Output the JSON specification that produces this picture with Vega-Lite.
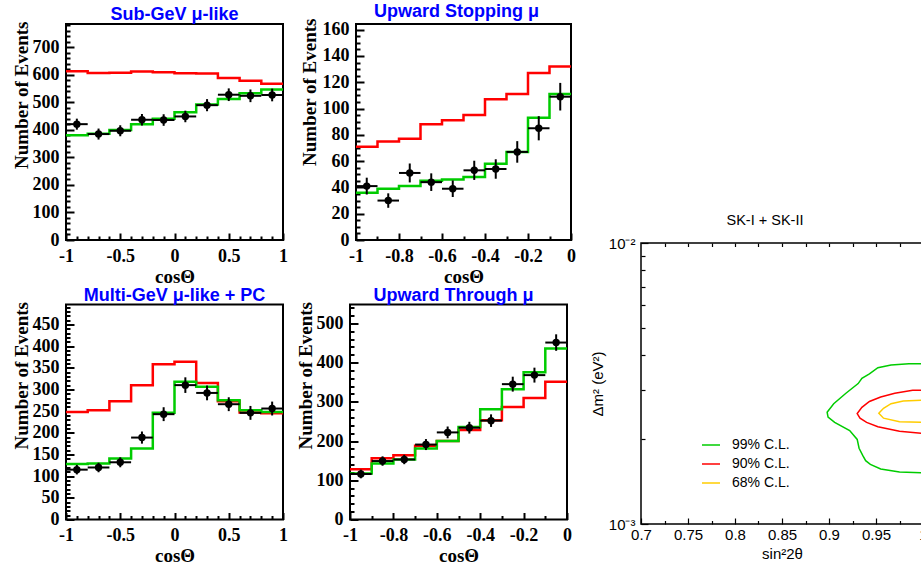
{
  "$schema": "https://vega.github.io/schema/vega-lite/v6.json",
  "background": "white",
  "padding": {"left": 10, "top": 2, "right": 0, "bottom": 0},
  "config": {
    "view": {"stroke": "black", "strokeWidth": 2},
    "axis": {"grid": false, "domain": false, "tickColor": "black", "tickWidth": 2, "labelColor": "black", "titleColor": "black"}
  },
  "datasets": {
    "sub_mc": [
      {"edge": -1.0, "noosc": 613, "fit": 381}, {"edge": -0.8, "noosc": 607, "fit": 386}, {"edge": -0.6, "noosc": 608, "fit": 400},
      {"edge": -0.4, "noosc": 612, "fit": 421}, {"edge": -0.2, "noosc": 610, "fit": 441}, {"edge": 0.0, "noosc": 606, "fit": 464},
      {"edge": 0.2, "noosc": 605, "fit": 492}, {"edge": 0.4, "noosc": 589, "fit": 512}, {"edge": 0.6, "noosc": 579, "fit": 533},
      {"edge": 0.8, "noosc": 568, "fit": 547}, {"edge": 1.0, "noosc": 568, "fit": 547}
    ],
    "sub_pts": [
      {"cos": -0.9, "lo": -1.0, "hi": -0.8, "n": 421, "err": 20}, {"cos": -0.7, "lo": -0.8, "hi": -0.6, "n": 385, "err": 20},
      {"cos": -0.5, "lo": -0.6, "hi": -0.4, "n": 397, "err": 20}, {"cos": -0.3, "lo": -0.4, "hi": -0.2, "n": 437, "err": 21},
      {"cos": -0.1, "lo": -0.2, "hi": 0.0, "n": 436, "err": 21}, {"cos": 0.1, "lo": 0.0, "hi": 0.2, "n": 449, "err": 21},
      {"cos": 0.3, "lo": 0.2, "hi": 0.4, "n": 490, "err": 22}, {"cos": 0.5, "lo": 0.4, "hi": 0.6, "n": 528, "err": 23},
      {"cos": 0.7, "lo": 0.6, "hi": 0.8, "n": 524, "err": 23}, {"cos": 0.9, "lo": 0.8, "hi": 1.0, "n": 527, "err": 23}
    ],
    "stop_mc": [
      {"edge": -1.0, "noosc": 71, "fit": 36}, {"edge": -0.9, "noosc": 75, "fit": 39}, {"edge": -0.8, "noosc": 77, "fit": 41},
      {"edge": -0.7, "noosc": 88, "fit": 45}, {"edge": -0.6, "noosc": 91, "fit": 46}, {"edge": -0.5, "noosc": 95, "fit": 48},
      {"edge": -0.4, "noosc": 107, "fit": 58}, {"edge": -0.3, "noosc": 111, "fit": 67}, {"edge": -0.2, "noosc": 127, "fit": 93},
      {"edge": -0.1, "noosc": 132, "fit": 111}, {"edge": 0.0, "noosc": 132, "fit": 111}
    ],
    "stop_pts": [
      {"cos": -0.95, "lo": -1.0, "hi": -0.9, "n": 41, "err": 6.4}, {"cos": -0.85, "lo": -0.9, "hi": -0.8, "n": 30, "err": 5.5},
      {"cos": -0.75, "lo": -0.8, "hi": -0.7, "n": 51, "err": 7.2}, {"cos": -0.65, "lo": -0.7, "hi": -0.6, "n": 44, "err": 6.7},
      {"cos": -0.55, "lo": -0.6, "hi": -0.5, "n": 39, "err": 6.3}, {"cos": -0.45, "lo": -0.5, "hi": -0.4, "n": 53, "err": 7.3},
      {"cos": -0.35, "lo": -0.4, "hi": -0.3, "n": 54, "err": 7.4}, {"cos": -0.25, "lo": -0.3, "hi": -0.2, "n": 67, "err": 8.2},
      {"cos": -0.15, "lo": -0.2, "hi": -0.1, "n": 85, "err": 9.2}, {"cos": -0.05, "lo": -0.1, "hi": 0.0, "n": 109, "err": 10.5}
    ],
    "multi_mc": [
      {"edge": -1.0, "noosc": 248, "fit": 128}, {"edge": -0.8, "noosc": 252, "fit": 129}, {"edge": -0.6, "noosc": 273, "fit": 141},
      {"edge": -0.4, "noosc": 310, "fit": 164}, {"edge": -0.2, "noosc": 358, "fit": 246}, {"edge": 0.0, "noosc": 364, "fit": 318},
      {"edge": 0.2, "noosc": 315, "fit": 306}, {"edge": 0.4, "noosc": 273, "fit": 275}, {"edge": 0.6, "noosc": 247, "fit": 252},
      {"edge": 0.8, "noosc": 245, "fit": 248}, {"edge": 1.0, "noosc": 245, "fit": 248}
    ],
    "multi_pts": [
      {"cos": -0.9, "lo": -1.0, "hi": -0.8, "n": 115, "err": 11}, {"cos": -0.7, "lo": -0.8, "hi": -0.6, "n": 120, "err": 11},
      {"cos": -0.5, "lo": -0.6, "hi": -0.4, "n": 132, "err": 11.5}, {"cos": -0.3, "lo": -0.4, "hi": -0.2, "n": 189, "err": 14},
      {"cos": -0.1, "lo": -0.2, "hi": 0.0, "n": 243, "err": 16}, {"cos": 0.1, "lo": 0.0, "hi": 0.2, "n": 310, "err": 18},
      {"cos": 0.3, "lo": 0.2, "hi": 0.4, "n": 292, "err": 17}, {"cos": 0.5, "lo": 0.4, "hi": 0.6, "n": 266, "err": 16},
      {"cos": 0.7, "lo": 0.6, "hi": 0.8, "n": 246, "err": 16}, {"cos": 0.9, "lo": 0.8, "hi": 1.0, "n": 256, "err": 16}
    ],
    "thru_mc": [
      {"edge": -1.0, "noosc": 128, "fit": 117}, {"edge": -0.9, "noosc": 156, "fit": 143}, {"edge": -0.8, "noosc": 164, "fit": 153},
      {"edge": -0.7, "noosc": 188, "fit": 181}, {"edge": -0.6, "noosc": 200, "fit": 200}, {"edge": -0.5, "noosc": 228, "fit": 236},
      {"edge": -0.4, "noosc": 253, "fit": 281}, {"edge": -0.3, "noosc": 287, "fit": 332}, {"edge": -0.2, "noosc": 310, "fit": 375},
      {"edge": -0.1, "noosc": 351, "fit": 436}, {"edge": 0.0, "noosc": 351, "fit": 436}
    ],
    "thru_pts": [
      {"cos": -0.95, "lo": -1.0, "hi": -0.9, "n": 116, "err": 11}, {"cos": -0.85, "lo": -0.9, "hi": -0.8, "n": 149, "err": 12},
      {"cos": -0.75, "lo": -0.8, "hi": -0.7, "n": 153, "err": 12}, {"cos": -0.65, "lo": -0.7, "hi": -0.6, "n": 191, "err": 14},
      {"cos": -0.55, "lo": -0.6, "hi": -0.5, "n": 222, "err": 15}, {"cos": -0.45, "lo": -0.5, "hi": -0.4, "n": 234, "err": 15},
      {"cos": -0.35, "lo": -0.4, "hi": -0.3, "n": 252, "err": 16}, {"cos": -0.25, "lo": -0.3, "hi": -0.2, "n": 345, "err": 19},
      {"cos": -0.15, "lo": -0.2, "hi": -0.1, "n": 368, "err": 19}, {"cos": -0.05, "lo": -0.1, "hi": 0.0, "n": 451, "err": 21}
    ],
    "contour": [
      {"level": "99% C.L.", "i": 1, "s2": 1.0, "dm2": 0.00372}, {"level": "99% C.L.", "i": 2, "s2": 0.985, "dm2": 0.00372},
      {"level": "99% C.L.", "i": 3, "s2": 0.966, "dm2": 0.00368}, {"level": "99% C.L.", "i": 4, "s2": 0.952, "dm2": 0.0036},
      {"level": "99% C.L.", "i": 5, "s2": 0.943, "dm2": 0.00342}, {"level": "99% C.L.", "i": 6, "s2": 0.935, "dm2": 0.0033},
      {"level": "99% C.L.", "i": 7, "s2": 0.931, "dm2": 0.00316}, {"level": "99% C.L.", "i": 8, "s2": 0.918, "dm2": 0.00292},
      {"level": "99% C.L.", "i": 9, "s2": 0.905, "dm2": 0.00268}, {"level": "99% C.L.", "i": 10, "s2": 0.898, "dm2": 0.0025},
      {"level": "99% C.L.", "i": 11, "s2": 0.899, "dm2": 0.0024}, {"level": "99% C.L.", "i": 12, "s2": 0.906, "dm2": 0.0023},
      {"level": "99% C.L.", "i": 13, "s2": 0.922, "dm2": 0.00215}, {"level": "99% C.L.", "i": 14, "s2": 0.93, "dm2": 0.002},
      {"level": "99% C.L.", "i": 15, "s2": 0.932, "dm2": 0.00186}, {"level": "99% C.L.", "i": 16, "s2": 0.936, "dm2": 0.00175},
      {"level": "99% C.L.", "i": 17, "s2": 0.939, "dm2": 0.00168}, {"level": "99% C.L.", "i": 18, "s2": 0.944, "dm2": 0.00163},
      {"level": "99% C.L.", "i": 19, "s2": 0.955, "dm2": 0.00157}, {"level": "99% C.L.", "i": 20, "s2": 0.975, "dm2": 0.00153},
      {"level": "99% C.L.", "i": 21, "s2": 1.0, "dm2": 0.00152}, {"level": "99% C.L.", "i": 22, "s2": 1.0, "dm2": 0.00372},
      {"level": "90% C.L.", "i": 1, "s2": 1.0, "dm2": 0.00299}, {"level": "90% C.L.", "i": 2, "s2": 0.989, "dm2": 0.00299},
      {"level": "90% C.L.", "i": 3, "s2": 0.97, "dm2": 0.00292}, {"level": "90% C.L.", "i": 4, "s2": 0.955, "dm2": 0.00283},
      {"level": "90% C.L.", "i": 5, "s2": 0.943, "dm2": 0.00273}, {"level": "90% C.L.", "i": 6, "s2": 0.935, "dm2": 0.0026},
      {"level": "90% C.L.", "i": 7, "s2": 0.93, "dm2": 0.00247}, {"level": "90% C.L.", "i": 8, "s2": 0.933, "dm2": 0.00238},
      {"level": "90% C.L.", "i": 9, "s2": 0.94, "dm2": 0.0023}, {"level": "90% C.L.", "i": 10, "s2": 0.952, "dm2": 0.00222},
      {"level": "90% C.L.", "i": 11, "s2": 0.975, "dm2": 0.00214}, {"level": "90% C.L.", "i": 12, "s2": 1.0, "dm2": 0.0021},
      {"level": "90% C.L.", "i": 13, "s2": 1.0, "dm2": 0.00299},
      {"level": "68% C.L.", "i": 1, "s2": 1.0, "dm2": 0.00276}, {"level": "68% C.L.", "i": 2, "s2": 0.979, "dm2": 0.00274},
      {"level": "68% C.L.", "i": 3, "s2": 0.966, "dm2": 0.00268}, {"level": "68% C.L.", "i": 4, "s2": 0.958, "dm2": 0.00258},
      {"level": "68% C.L.", "i": 5, "s2": 0.953, "dm2": 0.00248}, {"level": "68% C.L.", "i": 6, "s2": 0.958, "dm2": 0.00238},
      {"level": "68% C.L.", "i": 7, "s2": 0.975, "dm2": 0.00231}, {"level": "68% C.L.", "i": 8, "s2": 1.0, "dm2": 0.0023},
      {"level": "68% C.L.", "i": 9, "s2": 1.0, "dm2": 0.00276}
    ]
  },
  "resolve": {"scale": {"color": "independent"}, "legend": {"color": "independent"}},
  "spacing": 12,
  "hconcat": [
    {
      "spacing": -1.5,
      "vconcat": [
        {
          "bounds": "flush",
          "spacing": 73,
          "hconcat": [
            {
              "width": 217, "height": 216,
              "title": {"text": "Sub-GeV μ-like", "font": "Liberation Sans", "fontWeight": "bold", "fontSize": 18, "color": "#0000ff", "offset": -3, "anchor": "middle"},
              "resolve": {"axis": {"x": "independent", "y": "independent"}},
              "layer": [
                {
                  "data": {"name": "sub_mc"},
                  "transform": [{"fold": ["noosc", "fit"], "as": ["series", "val"]}],
                  "mark": {"type": "line", "interpolate": "step-after", "strokeWidth": 2.5},
                  "encoding": {
                    "x": {"field": "edge", "type": "quantitative", "scale": {"domain": [-1, 1], "nice": false, "zero": false},
                      "axis": {"orient": "bottom", "values": [-1, -0.5, 0, 0.5, 1], "labelExpr": "toString(datum.value)", "tickSize": -7, "labelFont": "Liberation Serif", "labelFontWeight": "bold", "labelFontSize": 18, "labelPadding": 14, "labelFlush": false, "labelOverlap": false, "title": "cosΘ", "titleFont": "Liberation Serif", "titleFontWeight": "bold", "titleFontSize": 19, "titleY": 27, "titleBaseline": "top"}},
                    "y": {"field": "val", "type": "quantitative", "scale": {"domain": [0, 785], "nice": false, "zero": false},
                      "axis": {"orient": "left", "values": [0, 100, 200, 300, 400, 500, 600, 700], "tickSize": -8, "labelFont": "Liberation Serif", "labelFontWeight": "bold", "labelFontSize": 18, "labelPadding": 15, "labelOverlap": false, "title": "Number of Events", "titleFont": "Liberation Serif", "titleFontWeight": "bold", "titleFontSize": 19, "titleAngle": -90, "titleAlign": "right", "titleBaseline": "middle", "titleX": -45, "titleY": -3}},
                    "color": {"field": "series", "type": "nominal", "scale": {"domain": ["noosc", "fit"], "range": ["#ff0000", "#00cc00"]}, "legend": null}
                  }
                },
                {
                  "data": {"name": "sub_pts"},
                  "mark": {"type": "errorbar", "color": "black", "thickness": 2},
                  "encoding": {
                    "x": {"field": "cos", "type": "quantitative", "scale": {"domain": [-1, 1], "nice": false, "zero": false}, "axis": null},
                    "y": {"field": "n", "type": "quantitative", "scale": {"domain": [0, 785], "nice": false, "zero": false}, "axis": null},
                    "yError": {"field": "err"}
                  }
                },
                {
                  "data": {"name": "sub_pts"},
                  "mark": {"type": "rule", "color": "black", "strokeWidth": 2},
                  "encoding": {
                    "x": {"field": "lo", "type": "quantitative", "scale": {"domain": [-1, 1], "nice": false, "zero": false},
                      "axis": {"orient": "bottom", "values": [-0.9, -0.8, -0.7, -0.6, -0.4, -0.3, -0.2, -0.1, 0.1, 0.2, 0.3, 0.4, 0.6, 0.7, 0.8, 0.9], "labels": false, "tickSize": -4, "title": null}},
                    "x2": {"field": "hi"},
                    "y": {"field": "n", "type": "quantitative", "scale": {"domain": [0, 785], "nice": false, "zero": false},
                      "axis": {"orient": "left", "values": [20, 40, 60, 80, 120, 140, 160, 180, 220, 240, 260, 280, 320, 340, 360, 380, 420, 440, 460, 480, 520, 540, 560, 580, 620, 640, 660, 680, 720, 740, 760, 780], "labels": false, "tickSize": -4, "title": null}}
                  }
                },
                {
                  "data": {"name": "sub_pts"},
                  "mark": {"type": "circle", "color": "black", "size": 55, "opacity": 1},
                  "encoding": {
                    "x": {"field": "cos", "type": "quantitative", "scale": {"domain": [-1, 1], "nice": false, "zero": false}, "axis": null},
                    "y": {"field": "n", "type": "quantitative", "scale": {"domain": [0, 785], "nice": false, "zero": false}, "axis": null}
                  }
                }
              ]
            },
            {
              "width": 215, "height": 216,
              "title": {"text": "Upward Stopping   μ", "font": "Liberation Sans", "fontWeight": "bold", "fontSize": 18, "color": "#0000ff", "offset": -3, "anchor": "middle", "dx": -7},
              "resolve": {"axis": {"x": "independent", "y": "independent"}},
              "layer": [
                {
                  "data": {"name": "stop_mc"},
                  "transform": [{"fold": ["noosc", "fit"], "as": ["series", "val"]}],
                  "mark": {"type": "line", "interpolate": "step-after", "strokeWidth": 2.5},
                  "encoding": {
                    "x": {"field": "edge", "type": "quantitative", "scale": {"domain": [-1, 0], "nice": false, "zero": false},
                      "axis": {"orient": "bottom", "values": [-1, -0.8, -0.6, -0.4, -0.2, 0], "labelExpr": "toString(datum.value)", "tickSize": -7, "labelFont": "Liberation Serif", "labelFontWeight": "bold", "labelFontSize": 18, "labelPadding": 14, "labelFlush": false, "labelOverlap": false, "title": "cosΘ", "titleFont": "Liberation Serif", "titleFontWeight": "bold", "titleFontSize": 19, "titleY": 27, "titleBaseline": "top"}},
                    "y": {"field": "val", "type": "quantitative", "scale": {"domain": [0, 164.3], "nice": false, "zero": false},
                      "axis": {"orient": "left", "values": [0, 20, 40, 60, 80, 100, 120, 140, 160], "tickSize": -8, "labelFont": "Liberation Serif", "labelFontWeight": "bold", "labelFontSize": 18, "labelPadding": 15, "labelOverlap": false, "title": "Number of Events", "titleFont": "Liberation Serif", "titleFontWeight": "bold", "titleFontSize": 19, "titleAngle": -90, "titleAlign": "right", "titleBaseline": "middle", "titleX": -47, "titleY": -6}},
                    "color": {"field": "series", "type": "nominal", "scale": {"domain": ["noosc", "fit"], "range": ["#ff0000", "#00cc00"]}, "legend": null}
                  }
                },
                {
                  "data": {"name": "stop_pts"},
                  "mark": {"type": "errorbar", "color": "black", "thickness": 2},
                  "encoding": {
                    "x": {"field": "cos", "type": "quantitative", "scale": {"domain": [-1, 0], "nice": false, "zero": false}, "axis": null},
                    "y": {"field": "n", "type": "quantitative", "scale": {"domain": [0, 164.3], "nice": false, "zero": false}, "axis": null},
                    "yError": {"field": "err"}
                  }
                },
                {
                  "data": {"name": "stop_pts"},
                  "mark": {"type": "rule", "color": "black", "strokeWidth": 2},
                  "encoding": {
                    "x": {"field": "lo", "type": "quantitative", "scale": {"domain": [-1, 0], "nice": false, "zero": false},
                      "axis": {"orient": "bottom", "values": [-0.9, -0.7, -0.5, -0.3, -0.1], "labels": false, "tickSize": -4, "title": null}},
                    "x2": {"field": "hi"},
                    "y": {"field": "n", "type": "quantitative", "scale": {"domain": [0, 164.3], "nice": false, "zero": false},
                      "axis": {"orient": "left", "values": [5, 10, 15, 25, 30, 35, 45, 50, 55, 65, 70, 75, 85, 90, 95, 105, 110, 115, 125, 130, 135, 145, 150, 155], "labels": false, "tickSize": -4, "title": null}}
                  }
                },
                {
                  "data": {"name": "stop_pts"},
                  "mark": {"type": "circle", "color": "black", "size": 55, "opacity": 1},
                  "encoding": {
                    "x": {"field": "cos", "type": "quantitative", "scale": {"domain": [-1, 0], "nice": false, "zero": false}, "axis": null},
                    "y": {"field": "n", "type": "quantitative", "scale": {"domain": [0, 164.3], "nice": false, "zero": false}, "axis": null}
                  }
                }
              ]
            }
          ]
        },
        {
          "bounds": "flush",
          "spacing": 67,
          "hconcat": [
            {
              "width": 217, "height": 215,
              "title": {"text": "Multi-GeV μ-like + PC", "font": "Liberation Sans", "fontWeight": "bold", "fontSize": 18, "color": "#0000ff", "offset": -3, "anchor": "middle"},
              "resolve": {"axis": {"x": "independent", "y": "independent"}},
              "layer": [
                {
                  "data": {"name": "multi_mc"},
                  "transform": [{"fold": ["noosc", "fit"], "as": ["series", "val"]}],
                  "mark": {"type": "line", "interpolate": "step-after", "strokeWidth": 2.5},
                  "encoding": {
                    "x": {"field": "edge", "type": "quantitative", "scale": {"domain": [-1, 1], "nice": false, "zero": false},
                      "axis": {"orient": "bottom", "values": [-1, -0.5, 0, 0.5, 1], "labelExpr": "toString(datum.value)", "tickSize": -7, "labelFont": "Liberation Serif", "labelFontWeight": "bold", "labelFontSize": 18, "labelPadding": 14, "labelFlush": false, "labelOverlap": false, "title": "cosΘ", "titleFont": "Liberation Serif", "titleFontWeight": "bold", "titleFontSize": 19, "titleY": 27, "titleBaseline": "top"}},
                    "y": {"field": "val", "type": "quantitative", "scale": {"domain": [0, 496], "nice": false, "zero": false},
                      "axis": {"orient": "left", "values": [0, 50, 100, 150, 200, 250, 300, 350, 400, 450], "tickSize": -8, "labelFont": "Liberation Serif", "labelFontWeight": "bold", "labelFontSize": 18, "labelPadding": 15, "labelOverlap": false, "title": "Number of Events", "titleFont": "Liberation Serif", "titleFontWeight": "bold", "titleFontSize": 19, "titleAngle": -90, "titleAlign": "right", "titleBaseline": "middle", "titleX": -45, "titleY": -3}},
                    "color": {"field": "series", "type": "nominal", "scale": {"domain": ["noosc", "fit"], "range": ["#ff0000", "#00cc00"]}, "legend": null}
                  }
                },
                {
                  "data": {"name": "multi_pts"},
                  "mark": {"type": "errorbar", "color": "black", "thickness": 2},
                  "encoding": {
                    "x": {"field": "cos", "type": "quantitative", "scale": {"domain": [-1, 1], "nice": false, "zero": false}, "axis": null},
                    "y": {"field": "n", "type": "quantitative", "scale": {"domain": [0, 496], "nice": false, "zero": false}, "axis": null},
                    "yError": {"field": "err"}
                  }
                },
                {
                  "data": {"name": "multi_pts"},
                  "mark": {"type": "rule", "color": "black", "strokeWidth": 2},
                  "encoding": {
                    "x": {"field": "lo", "type": "quantitative", "scale": {"domain": [-1, 1], "nice": false, "zero": false},
                      "axis": {"orient": "bottom", "values": [-0.9, -0.8, -0.7, -0.6, -0.4, -0.3, -0.2, -0.1, 0.1, 0.2, 0.3, 0.4, 0.6, 0.7, 0.8, 0.9], "labels": false, "tickSize": -4, "title": null}},
                    "x2": {"field": "hi"},
                    "y": {"field": "n", "type": "quantitative", "scale": {"domain": [0, 496], "nice": false, "zero": false},
                      "axis": {"orient": "left", "values": [10, 20, 30, 40, 60, 70, 80, 90, 110, 120, 130, 140, 160, 170, 180, 190, 210, 220, 230, 240, 260, 270, 280, 290, 310, 320, 330, 340, 360, 370, 380, 390, 410, 420, 430, 440, 460, 470, 480, 490], "labels": false, "tickSize": -4, "title": null}}
                  }
                },
                {
                  "data": {"name": "multi_pts"},
                  "mark": {"type": "circle", "color": "black", "size": 55, "opacity": 1},
                  "encoding": {
                    "x": {"field": "cos", "type": "quantitative", "scale": {"domain": [-1, 1], "nice": false, "zero": false}, "axis": null},
                    "y": {"field": "n", "type": "quantitative", "scale": {"domain": [0, 496], "nice": false, "zero": false}, "axis": null}
                  }
                }
              ]
            },
            {
              "width": 217, "height": 215,
              "title": {"text": "Upward Through   μ", "font": "Liberation Sans", "fontWeight": "bold", "fontSize": 18, "color": "#0000ff", "offset": -3, "anchor": "middle", "dx": -5},
              "resolve": {"axis": {"x": "independent", "y": "independent"}},
              "layer": [
                {
                  "data": {"name": "thru_mc"},
                  "transform": [{"fold": ["noosc", "fit"], "as": ["series", "val"]}],
                  "mark": {"type": "line", "interpolate": "step-after", "strokeWidth": 2.5},
                  "encoding": {
                    "x": {"field": "edge", "type": "quantitative", "scale": {"domain": [-1, 0], "nice": false, "zero": false},
                      "axis": {"orient": "bottom", "values": [-1, -0.8, -0.6, -0.4, -0.2, 0], "labelExpr": "toString(datum.value)", "tickSize": -7, "labelFont": "Liberation Serif", "labelFontWeight": "bold", "labelFontSize": 18, "labelPadding": 14, "labelFlush": false, "labelOverlap": false, "title": "cosΘ", "titleFont": "Liberation Serif", "titleFontWeight": "bold", "titleFontSize": 19, "titleY": 27, "titleBaseline": "top"}},
                    "y": {"field": "val", "type": "quantitative", "scale": {"domain": [0, 548], "nice": false, "zero": false},
                      "axis": {"orient": "left", "values": [0, 100, 200, 300, 400, 500], "tickSize": -8, "labelFont": "Liberation Serif", "labelFontWeight": "bold", "labelFontSize": 18, "labelPadding": 15, "labelOverlap": false, "title": "Number of Events", "titleFont": "Liberation Serif", "titleFontWeight": "bold", "titleFontSize": 19, "titleAngle": -90, "titleAlign": "right", "titleBaseline": "middle", "titleX": -45, "titleY": -3}},
                    "color": {"field": "series", "type": "nominal", "scale": {"domain": ["noosc", "fit"], "range": ["#ff0000", "#00cc00"]}, "legend": null}
                  }
                },
                {
                  "data": {"name": "thru_pts"},
                  "mark": {"type": "errorbar", "color": "black", "thickness": 2},
                  "encoding": {
                    "x": {"field": "cos", "type": "quantitative", "scale": {"domain": [-1, 0], "nice": false, "zero": false}, "axis": null},
                    "y": {"field": "n", "type": "quantitative", "scale": {"domain": [0, 548], "nice": false, "zero": false}, "axis": null},
                    "yError": {"field": "err"}
                  }
                },
                {
                  "data": {"name": "thru_pts"},
                  "mark": {"type": "rule", "color": "black", "strokeWidth": 2},
                  "encoding": {
                    "x": {"field": "lo", "type": "quantitative", "scale": {"domain": [-1, 0], "nice": false, "zero": false},
                      "axis": {"orient": "bottom", "values": [-0.9, -0.7, -0.5, -0.3, -0.1], "labels": false, "tickSize": -4, "title": null}},
                    "x2": {"field": "hi"},
                    "y": {"field": "n", "type": "quantitative", "scale": {"domain": [0, 548], "nice": false, "zero": false},
                      "axis": {"orient": "left", "values": [20, 40, 60, 80, 120, 140, 160, 180, 220, 240, 260, 280, 320, 340, 360, 380, 420, 440, 460, 480, 520, 540], "labels": false, "tickSize": -4, "title": null}}
                  }
                },
                {
                  "data": {"name": "thru_pts"},
                  "mark": {"type": "circle", "color": "black", "size": 55, "opacity": 1},
                  "encoding": {
                    "x": {"field": "cos", "type": "quantitative", "scale": {"domain": [-1, 0], "nice": false, "zero": false}, "axis": null},
                    "y": {"field": "n", "type": "quantitative", "scale": {"domain": [0, 548], "nice": false, "zero": false}, "axis": null}
                  }
                }
              ]
            }
          ]
        }
      ]
    },
    {
      "bounds": "flush",
      "spacing": 20,
      "resolve": {"scale": {"color": "independent"}, "legend": {"color": "independent"}},
      "vconcat": [
        {
          "width": 282, "height": 199,
          "view": {"stroke": "transparent"},
          "data": {"values": [{}]},
          "mark": {"type": "text"},
          "encoding": {"text": {"value": ""}}
        },
        {
          "width": 282, "height": 281,
          "view": {"stroke": "black", "strokeWidth": 1.5},
          "title": {"text": "SK-I + SK-II", "font": "Liberation Sans", "fontWeight": "normal", "fontSize": 14.5, "color": "black", "offset": 8, "dx": -17, "anchor": "middle"},
          "data": {"name": "contour"},
          "resolve": {"axis": {"x": "independent", "y": "independent"}},
          "layer": [
            {
              "transform": [{"filter": "datum.level == '99% C.L.'"}],
              "mark": {"type": "line", "strokeWidth": 1.5},
              "encoding": {
                "x": {"field": "s2", "type": "quantitative", "scale": {"domain": [0.7, 1.0], "nice": false, "zero": false},
                  "axis": {"orient": "bottom", "values": [0.7, 0.75, 0.8, 0.85, 0.9, 0.95, 1.0], "labelExpr": "toString(datum.value)", "tickSize": -6, "tickWidth": 1.2, "labelFont": "Liberation Sans", "labelFontSize": 15, "labelPadding": 9, "labelFlush": false, "labelOverlap": false, "title": "sin²2θ", "titleFont": "Liberation Sans", "titleFontWeight": "normal", "titleFontSize": 15, "titleY": 22, "titleBaseline": "top"}},
                "y": {"field": "dm2", "type": "quantitative", "scale": {"type": "log", "domain": [0.001, 0.01], "nice": false},
                  "axis": {"orient": "left", "values": [0.001, 0.01], "labelExpr": "datum.value > 0.005 ? '10⁻²' : '10⁻³'", "tickSize": -7, "tickWidth": 1.2, "labelFont": "Liberation Sans", "labelFontSize": 15, "labelPadding": 13, "labelOverlap": false, "title": "Δm² (eV²)", "titleFont": "Liberation Sans", "titleFontWeight": "normal", "titleFontSize": 15, "titleAngle": -90, "titleBaseline": "middle", "titleX": -44}},
                "order": {"field": "i", "type": "quantitative"},
                "color": {"field": "level", "type": "nominal", "scale": {"domain": ["99% C.L.", "90% C.L.", "68% C.L."], "range": ["#00cc00", "#ff0000", "#ffcc00"]},
                  "legend": {"orient": "none", "legendX": 60, "legendY": 192, "title": null, "symbolType": "stroke", "symbolSize": 324, "symbolStrokeWidth": 1.5, "labelFont": "Liberation Sans", "labelFontSize": 14, "labelColor": "black", "labelOffset": 11, "rowPadding": 2, "padding": 0}}
              }
            },
            {
              "transform": [{"filter": "datum.level == '90% C.L.'"}],
              "mark": {"type": "line", "strokeWidth": 1.5},
              "encoding": {
                "x": {"field": "s2", "type": "quantitative", "scale": {"domain": [0.7, 1.0], "nice": false, "zero": false},
                  "axis": {"orient": "bottom", "values": [0.725, 0.775, 0.825, 0.875, 0.925, 0.975], "labels": false, "tickSize": -3.5, "tickWidth": 1.2, "title": null}},
                "y": {"field": "dm2", "type": "quantitative", "scale": {"type": "log", "domain": [0.001, 0.01], "nice": false},
                  "axis": {"orient": "left", "values": [0.002, 0.003, 0.004, 0.005, 0.006, 0.007, 0.008, 0.009], "labels": false, "tickSize": -4, "tickWidth": 1.2, "title": null}},
                "order": {"field": "i", "type": "quantitative"},
                "color": {"field": "level", "type": "nominal", "scale": {"domain": ["99% C.L.", "90% C.L.", "68% C.L."], "range": ["#00cc00", "#ff0000", "#ffcc00"]},
                  "legend": {"orient": "none", "legendX": 60, "legendY": 192, "title": null, "symbolType": "stroke", "symbolSize": 324, "symbolStrokeWidth": 1.5, "labelFont": "Liberation Sans", "labelFontSize": 14, "labelColor": "black", "labelOffset": 11, "rowPadding": 2, "padding": 0}}
              }
            },
            {
              "transform": [{"filter": "datum.level == '68% C.L.'"}],
              "mark": {"type": "line", "strokeWidth": 1.5},
              "encoding": {
                "x": {"field": "s2", "type": "quantitative", "scale": {"domain": [0.7, 1.0], "nice": false, "zero": false},
                  "axis": {"orient": "top", "values": [0.725, 0.75, 0.775, 0.8, 0.825, 0.85, 0.875, 0.9, 0.925, 0.95, 0.975], "labels": false, "tickSize": -3.5, "tickWidth": 1.2, "title": null}},
                "y": {"field": "dm2", "type": "quantitative", "scale": {"type": "log", "domain": [0.001, 0.01], "nice": false}, "axis": null},
                "order": {"field": "i", "type": "quantitative"},
                "color": {"field": "level", "type": "nominal", "scale": {"domain": ["99% C.L.", "90% C.L.", "68% C.L."], "range": ["#00cc00", "#ff0000", "#ffcc00"]},
                  "legend": {"orient": "none", "legendX": 60, "legendY": 192, "title": null, "symbolType": "stroke", "symbolSize": 324, "symbolStrokeWidth": 1.5, "labelFont": "Liberation Sans", "labelFontSize": 14, "labelColor": "black", "labelOffset": 11, "rowPadding": 2, "padding": 0}}
              }
            }
          ]
        }
      ]
    }
  ]
}
